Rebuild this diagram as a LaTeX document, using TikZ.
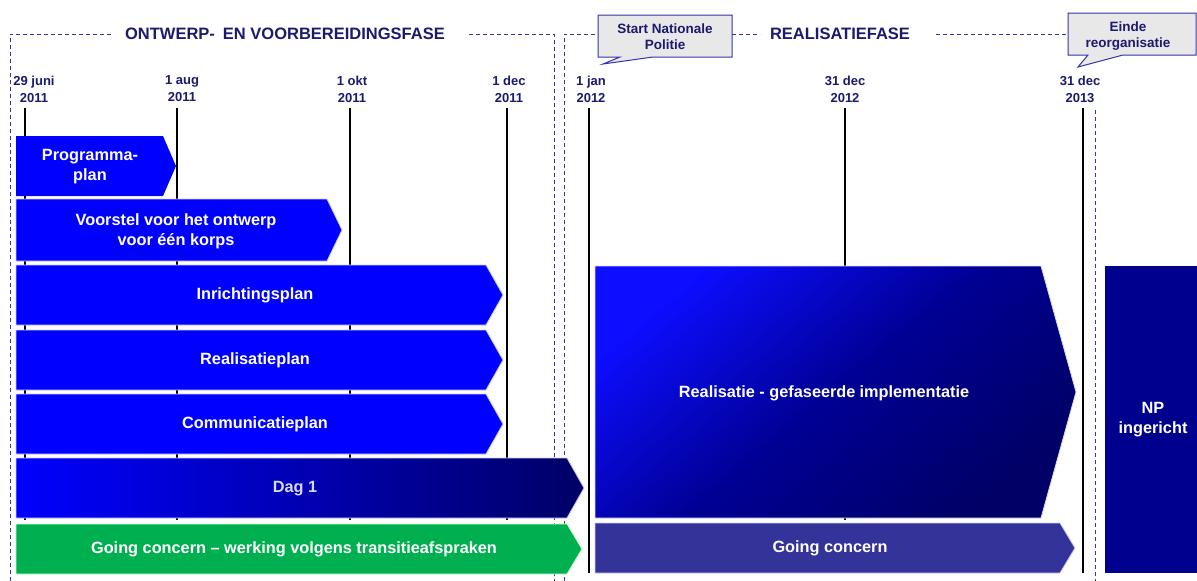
\documentclass[tikz,border=0pt]{standalone}
\usepackage{fontspec}
\setmainfont{Liberation Sans}
\definecolor{navytxt}{HTML}{1A1A6E}
\definecolor{barblue}{HTML}{0000FF}
\definecolor{darknavy}{HTML}{000066}
\definecolor{dashblue}{HTML}{3333AA}
\definecolor{gcgreen}{HTML}{00B050}
\definecolor{gcpurple}{HTML}{333399}
\definecolor{npblue}{HTML}{00008F}
\definecolor{callfill}{HTML}{E8E8E8}
\definecolor{daytxt}{HTML}{D8D8F0}
\begin{document}
\begin{tikzpicture}[x=1pt,y=-1pt,
  datelbl/.style={text=navytxt,align=center,font=\fontsize{13}{17}\selectfont\bfseries,inner sep=0pt},
  phasetitle/.style={text=navytxt,font=\fontsize{16.5}{18}\selectfont\bfseries,inner sep=0pt},
  calltxt/.style={text=navytxt,align=center,font=\fontsize{13.5}{16.5}\selectfont\bfseries,inner sep=0pt},
  bartxt/.style={text=white,align=center,font=\fontsize{16.3}{20}\selectfont\bfseries,inner sep=0pt},
  barline/.style={draw=blue!20,line width=0.8pt},
  tickline/.style={draw=black,line width=1.5pt},
  phaseline/.style={draw=dashblue,line width=0.9pt,dash pattern=on 4pt off 3pt},
  callbox/.style={fill=callfill,draw=dashblue,line width=1pt}]
\useasboundingbox (0,0) rectangle (1197,581);
\fill[white] (0,0) rectangle (1197,581);

% time lines
\coordinate (t1a) at (25,108);  \coordinate (t1b) at (25,520);
\coordinate (t2a) at (177,108); \coordinate (t2b) at (177,520);
\coordinate (t3a) at (350,108); \coordinate (t3b) at (350,520);
\coordinate (t4a) at (507,108); \coordinate (t4b) at (507,520);
\coordinate (t5a) at (589,108); \coordinate (t5b) at (589,573);
\coordinate (t6a) at (845,108); \coordinate (t6b) at (845,520);
\coordinate (t7a) at (1083,108);\coordinate (t7b) at (1083,573);
\foreach \i in {1,...,7} {\draw[tickline] (t\i a) -- (t\i b);}

% phase frames
\draw[phaseline] (10,581) -- (10,34) -- (111,34);
\draw[phaseline] (469,34) -- (554,34) -- (554,581);
\draw[phaseline] (564,581) -- (564,34) -- (598,34);
\draw[phaseline] (732,34) -- (760,34);
\draw[phaseline] (936,34) -- (1068,34);
\draw[phaseline] (1095,110) -- (1095,581);

\node[phasetitle] (ph1) at (285,34) {ONTWERP-\hspace{8pt}EN VOORBEREIDINGSFASE};
\node[phasetitle] (ph2) at (840,34) {REALISATIEFASE};

% date labels
\node[datelbl] (d1) at (34,89) {29 juni\\2011};
\node[datelbl] (d2) at (182,89) {1 aug\\2011};
\node[datelbl] (d3) at (352,89) {1 okt\\2011};
\node[datelbl] (d4) at (509,89) {1 dec\\2011};
\node[datelbl] (d5) at (591,89) {1 jan\\2012};
\node[datelbl] (d6) at (845,89) {31 dec\\2012};
\node[datelbl] (d7) at (1080,89) {31 dec\\2013};

% callouts
\draw[callbox] (598,15) -- (732,15) -- (732,57) -- (653,57) -- (603,64) -- (620,57) -- (598,57) -- cycle;
\node[calltxt] (c1) at (665,36.5) {Start Nationale\\Politie};
\draw[callbox] (1068,13) -- (1196,13) -- (1196,55) -- (1123,55) -- (1078,67) -- (1088,55) -- (1068,55) -- cycle;
\node[calltxt] (c2) at (1128,36) {Einde\\reorganisatie};

% bars left
\fill[barblue] (16,136) -- (163,136) -- (176,166) -- (163,196) -- (16,196) -- cycle;
\node[bartxt] (b1) at (90,167) {Programma-\\plan};
\path[fill=barblue,barline] (16,199) -- (327,199) -- (342,230) -- (327,261) -- (16,261) -- cycle;
\node[bartxt] (b2) at (176,231) {Voorstel voor het ontwerp\\voor één korps};
\path[fill=barblue,barline] (16,265) -- (486,265) -- (503,295) -- (486,325) -- (16,325) -- cycle;
\node[bartxt] (b3) at (255,295) {Inrichtingsplan};
\path[fill=barblue,barline] (16,330) -- (486,330) -- (503,360) -- (486,390) -- (16,390) -- cycle;
\node[bartxt] (b4) at (255,360) {Realisatieplan};
\path[fill=barblue,barline] (16,394) -- (486,394) -- (503,424) -- (486,454) -- (16,454) -- cycle;
\node[bartxt] (b5) at (255,424) {Communicatieplan};
\shade[left color=barblue,middle color=blue!75!black,right color=darknavy,barline] (16,458) -- (567,458) -- (584,488) -- (567,518) -- (16,518) -- cycle;
\node[bartxt,text=daytxt] (b6) at (295,489) {Dag 1};
\path[fill=gcgreen,draw=green!20,line width=0.8pt] (16,524) -- (567,524) -- (582,549) -- (567,574) -- (16,574) -- cycle;
\node[bartxt] (b7) at (294,549) {Going concern -- werking volgens transitieafspraken};

% bars right
\shade[top color=blue!95!white,bottom color=darknavy,middle color=darknavy!70!blue,shading angle=40,draw=blue!15,line width=0.8pt] (595,266) -- (1041,266) -- (1076,392) -- (1041,518) -- (595,518) -- cycle;
\node[bartxt] (b8) at (824,393) {Realisatie - gefaseerde\hspace{4pt}implementatie};
\path[fill=gcpurple,draw=blue!20,line width=0.8pt] (595,523) -- (1060,523) -- (1075,548) -- (1060,573) -- (595,573) -- cycle;
\node[bartxt] (b9) at (830,548) {Going concern};
\fill[npblue] (1105,266) rectangle (1197,573);
\node[bartxt] (b10) at (1153,420) {NP\\ingericht};
\end{tikzpicture}
\end{document}
